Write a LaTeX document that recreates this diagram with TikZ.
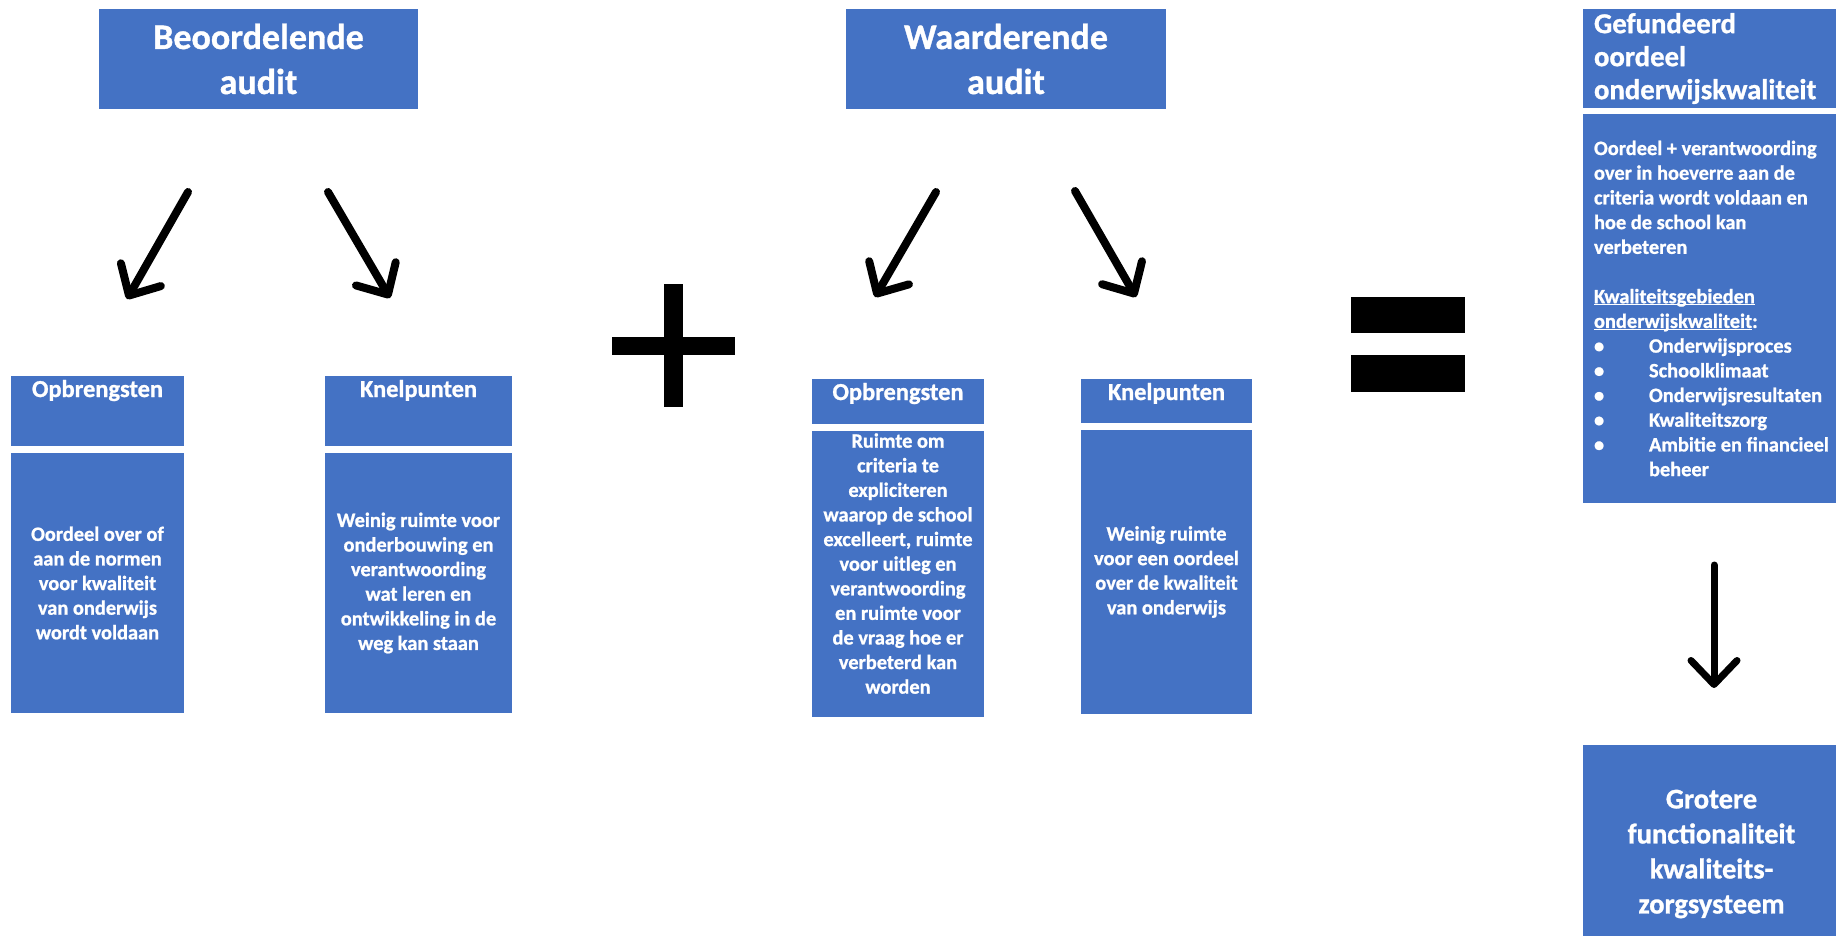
\documentclass[tikz,border=0pt]{standalone}
\usepackage{fontspec}
\setmainfont{Carlito}[BoldFeatures={FakeBold=1}]
\usepackage{tikz}
\usetikzlibrary{arrows.meta}
\definecolor{vakblauw}{HTML}{4472C4}
\tikzset{
    vak/.style={fill=vakblauw, text=white, inner sep=0pt, align=center},
    titel/.style={font=\bfseries\fontsize{36}{45}\selectfont},
    kop/.style={font=\bfseries\fontsize{24.4}{28}\selectfont, text height=17pt, inner ysep=4pt, text depth=#1},
    tekst/.style={font=\bfseries\fontsize{20.4}{24.6}\selectfont},
    pijl/.style={line width=8pt, line cap=round, -{Straight Barb[round, length=24pt, width=46pt]}}
}
\newcommand{\vak}[7] {
	\node[vak, #6, minimum width={#4-#2}, minimum height={#5-#3}] (#1) at ({(#2+#4)/2},{(#3+#5)/2}) {#7};
}
\newcommand{\onder}[1] {%
	\leavevmode\setbox0\hbox{#1}\rlap{\rule[-2.2pt]{\wd0}{1.2pt}}\box0%
}

\begin{document}
\begin{tikzpicture}[x=1pt, y=-1pt]
		\useasboundingbox (0,0) rectangle (1836,936);
		\clip (0,0) rectangle (1836,936);

		% Beoordelende audit
		\vak{beo}{99}{9}{418}{109}{titel}{Beoordelende\\audit}
		\coordinate (beo-l1) at (188,192);
		\coordinate (beo-l2) at (127,299);
		\coordinate (beo-r1) at (328,192);
		\coordinate (beo-r2) at (390,298);
		\draw[pijl] (beo-l1) -- (beo-l2);
		\draw[pijl] (beo-r1) -- (beo-r2);

		\vak{opb1}{11}{376}{184}{446}{kop=45pt}{Opbrengsten}
		\vak{opb1-t}{11}{453}{184}{713}{tekst}{Oordeel over of\\aan de normen\\voor kwaliteit\\van onderwijs\\wordt voldaan}
		\vak{kne1}{325}{376}{512}{446}{kop=45pt}{Knelpunten}
		\vak{kne1-t}{325}{453}{512}{713}{tekst}{Weinig ruimte voor\\onderbouwing en\\verantwoording\\wat leren en\\ontwikkeling in de\\weg kan staan}

		% Plus
		\fill (664,284) rectangle (683,407);
		\fill (612,337) rectangle (735,355);

		% Waarderende audit
		\vak{waa}{846}{9}{1166}{109}{titel}{Waarderende\\audit}
		\coordinate (waa-l1) at (936,192);
		\coordinate (waa-l2) at (875,297);
		\coordinate (waa-r1) at (1075,191);
		\coordinate (waa-r2) at (1136,297);
		\draw[pijl] (waa-l1) -- (waa-l2);
		\draw[pijl] (waa-r1) -- (waa-r2);

		\vak{opb2}{812}{379}{984}{424}{kop=20pt}{Opbrengsten}
		\vak{opb2-t}{812}{431}{984}{717}{tekst, text depth=21pt}{Ruimte om\\criteria te\\expliciteren\\waarop de school\\excelleert, ruimte\\voor uitleg en\\verantwoording\\en ruimte voor\\de vraag hoe er\\verbeterd kan\\worden}
		\vak{kne2}{1081}{379}{1252}{423}{kop=19pt}{Knelpunten}
		\vak{kne2-t}{1081}{430}{1252}{714}{tekst}{Weinig ruimte\\voor een oordeel\\over de kwaliteit\\van onderwijs}

		% Is
		\fill (1351,297) rectangle (1465,333);
		\fill (1351,355) rectangle (1465,392);

		% Uitkomst
		\vak{gef}{1583}{9}{1851}{108}{align=flush left, text width=246pt, inner xsep=11pt, font=\bfseries\fontsize{28.7}{33}\selectfont}{Gefundeerd\\oordeel\\onderwijskwaliteit}
		\vak{gef-t}{1583}{114}{1851}{503}{align=flush left, text width=246pt, inner xsep=11pt, font=\bfseries\fontsize{20.4}{24.7}\selectfont}{Oordeel + verantwoording\\over in hoeverre aan de\\criteria wordt voldaan en\\hoe de school kan\\verbeteren\\[24.7pt]\onder{Kwaliteitsgebieden}\\\onder{onderwijskwaliteit}:\\\makebox[55pt][l]{\textbullet}Onderwijsproces\\\makebox[55pt][l]{\textbullet}Schoolklimaat\\\makebox[55pt][l]{\textbullet}Onderwijsresultaten\\\makebox[55pt][l]{\textbullet}Kwaliteitszorg\\\makebox[55pt][l]{\textbullet}Ambitie en financieel\\\hspace*{55pt}beheer}
		\coordinate (gef-1) at (1714,565);
		\coordinate (gef-2) at (1714,688);
		\draw[pijl, line width=7pt] (gef-1) -- (gef-2);
		\vak{groter}{1583}{745}{1840}{963}{font=\bfseries\fontsize{28.5}{35}\selectfont}{Grotere\\functionaliteit\\kwaliteits-\\zorgsysteem}

	\end{tikzpicture}
\end{document}
